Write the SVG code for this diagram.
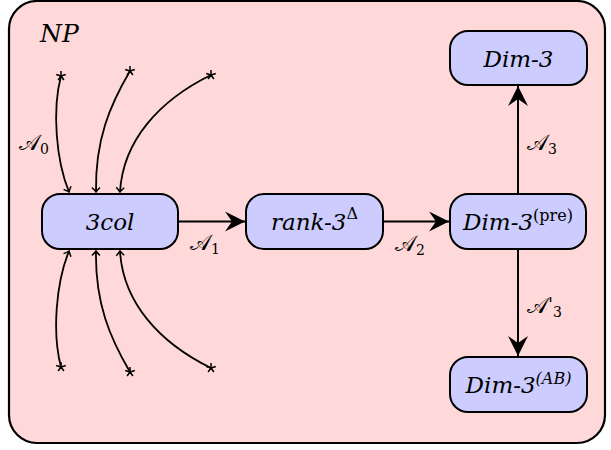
<svg xmlns="http://www.w3.org/2000/svg" width="611" height="450" viewBox="0 0 611 450">
<style>
.node{fill:#ccccff;stroke:#000;stroke-width:2}
.t{font-family:'DejaVu Serif',serif;font-style:italic;font-size:23px;fill:#000}
.sup{font-size:16px}
.lab{font-family:'DejaVu Serif',serif;font-size:22px;fill:#000}
.sub{font-size:14px;font-style:normal}
.main{fill:none;stroke:#000;stroke-width:2}
.thin{fill:none;stroke:#000;stroke-width:1.8}
.star{stroke:#000;stroke-width:1.5;fill:none}
</style>
<defs>
<marker id="open" viewBox="-6 -5 8 10" refX="0" refY="0" markerWidth="8" markerHeight="10" markerUnits="userSpaceOnUse" orient="auto">
<path d="M-4.5,-4 Q-1.5,-1 0,0 Q-1.5,1 -4.5,4" fill="none" stroke="#000" stroke-width="1.5"/>
</marker>
<marker id="stealth" viewBox="-20 -11 21 22" refX="0" refY="0" markerWidth="21" markerHeight="22" markerUnits="userSpaceOnUse" orient="auto">
<path d="M0,0 L-20,-10 L-13,0 L-20,10 Z" fill="#000"/>
</marker>
<g id="st"><path class="star" d="M0,-5 L0,0 M4.8,-1.5 L0,0 M2.9,4 L0,0 M-2.9,4 L0,0 M-4.8,-1.5 L0,0"/></g>
</defs>
<rect id="np-box" x="9" y="1" width="596" height="442" rx="28" ry="28" fill="#ffd9d9" stroke="#000" stroke-width="2.2"/>
<text x="40" y="42" font-family="DejaVu Serif, serif" font-style="italic" font-size="25">NP</text>

<g id="connectors">
<path class="main" d="M178,221.5 L245,221.5" marker-end="url(#stealth)"/>
<path class="main" d="M383,221.5 L449,221.5" marker-end="url(#stealth)"/>
<path class="main" d="M518,194 L518,86" marker-end="url(#stealth)"/>
<path class="main" d="M518,249 L518,356" marker-end="url(#stealth)"/>
<path class="thin" d="M61,76 C52,110 56,160 69,192" marker-end="url(#open)"/>
<path class="thin" d="M130,71 C110,105 95,140 96,192" marker-end="url(#open)"/>
<path class="thin" d="M211,75 C160,100 123,140 120,192" marker-end="url(#open)"/>
<path class="thin" d="M61,367 C52,333 56,283 69,251" marker-end="url(#open)"/>
<path class="thin" d="M130,372 C110,338 95,303 96,251" marker-end="url(#open)"/>
<path class="thin" d="M211,368 C160,343 123,303 120,251" marker-end="url(#open)"/>
<use href="#st" x="61" y="76"/>
<use href="#st" x="130" y="71"/>
<use href="#st" x="211" y="75"/>
<use href="#st" x="61" y="367"/>
<use href="#st" x="130" y="372"/>
<use href="#st" x="211" y="368"/>
<text class="lab" x="19" y="150">𝒜<tspan class="sub" dy="4">0</tspan></text>
<text class="lab" x="190" y="250">𝒜<tspan class="sub" dy="4">1</tspan></text>
<text class="lab" x="395" y="251">𝒜<tspan class="sub" dy="4">2</tspan></text>
<text class="lab" x="527" y="150">𝒜<tspan class="sub" dy="4">3</tspan></text>
<text class="lab" x="527" y="313">𝒜<tspan font-size="18" dy="-2">'</tspan><tspan class="sub" dy="6">3</tspan></text>
</g>

<g id="n-3col">
<rect class="node" x="42" y="194" width="136" height="55" rx="18"/>
<text class="t" x="110" y="230" text-anchor="middle">3col</text>
</g>
<g id="n-rank3">
<rect class="node" x="246" y="194" width="137" height="55" rx="18"/>
<text class="t" x="314.5" y="230" text-anchor="middle">rank-3<tspan class="sup" dy="-11" style="font-style:normal">Δ</tspan></text>
</g>
<g id="n-dim3pre">
<rect class="node" x="450" y="194" width="136" height="55" rx="18"/>
<text class="t" x="518" y="230" text-anchor="middle">Dim-3<tspan class="sup" dy="-9" style="font-style:normal">(pre)</tspan></text>
</g>
<g id="n-dim3">
<rect class="node" x="450" y="31" width="137" height="54" rx="18"/>
<text class="t" x="518.5" y="67" text-anchor="middle">Dim-3</text>
</g>
<g id="n-dim3ab">
<rect class="node" x="450" y="357" width="137" height="55" rx="18"/>
<text class="t" x="518.5" y="393" text-anchor="middle">Dim-3<tspan class="sup" dy="-9">(AB)</tspan></text>
</g>
</svg>
